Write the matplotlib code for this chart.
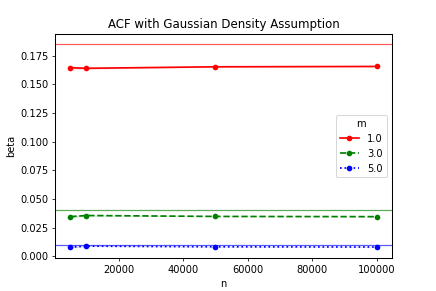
import matplotlib
matplotlib.use("Agg")
import matplotlib.pyplot as plt
import numpy as np

n = [5000, 10000, 50000, 100000]
m_labels = ["1.0", "3.0", "5.0"]
colors = ["red", "green", "blue"]
styles = ["-", "--", ":"]

beta_mean = [
    [0.1645, 0.1640, 0.1653, 0.1656],
    [0.0345, 0.0355, 0.0347, 0.0345],
    [0.0079, 0.0088, 0.0082, 0.0080],
]
beta_low = [
    [0.1633, 0.1634, 0.1650, 0.1653],
    [0.0333, 0.0350, 0.0345, 0.0343],
    [0.0072, 0.0084, 0.0080, 0.0078],
]
beta_high = [
    [0.1660, 0.1647, 0.1656, 0.1659],
    [0.0358, 0.0360, 0.0349, 0.0347],
    [0.0087, 0.0092, 0.0084, 0.0082],
]
beta_ref = [0.185, 0.0405, 0.0099]

plt.rcParams["font.size"] = 10.5
plt.rcParams["axes.linewidth"] = 1.1

fig = plt.figure(figsize=(436 / 68, 291 / 68), dpi=68)
ax = fig.add_axes([0.126, 0.113, 0.773, 0.770])

for i, label in enumerate(m_labels):
    ax.plot(n, beta_mean[i], color=colors[i], linestyle=styles[i], linewidth=1.8,
            marker="o", markersize=6, markeredgecolor=colors[i], markeredgewidth=0,
            label=label)
    ax.fill_between(n, beta_low[i], beta_high[i], color=colors[i], alpha=0.2, linewidth=0)
    ax.axhline(beta_ref[i], color=colors[i], linewidth=1.3, alpha=0.65)

ax.set_xticks([20000, 40000, 60000, 80000, 100000])
ax.set_xlabel("n")
ax.set_ylabel("beta")
ax.set_title("ACF with Gaussian Density Assumption", fontsize=12.5)
ax.legend(title="m", loc="center right")

fig.savefig("out.png", dpi=68)
